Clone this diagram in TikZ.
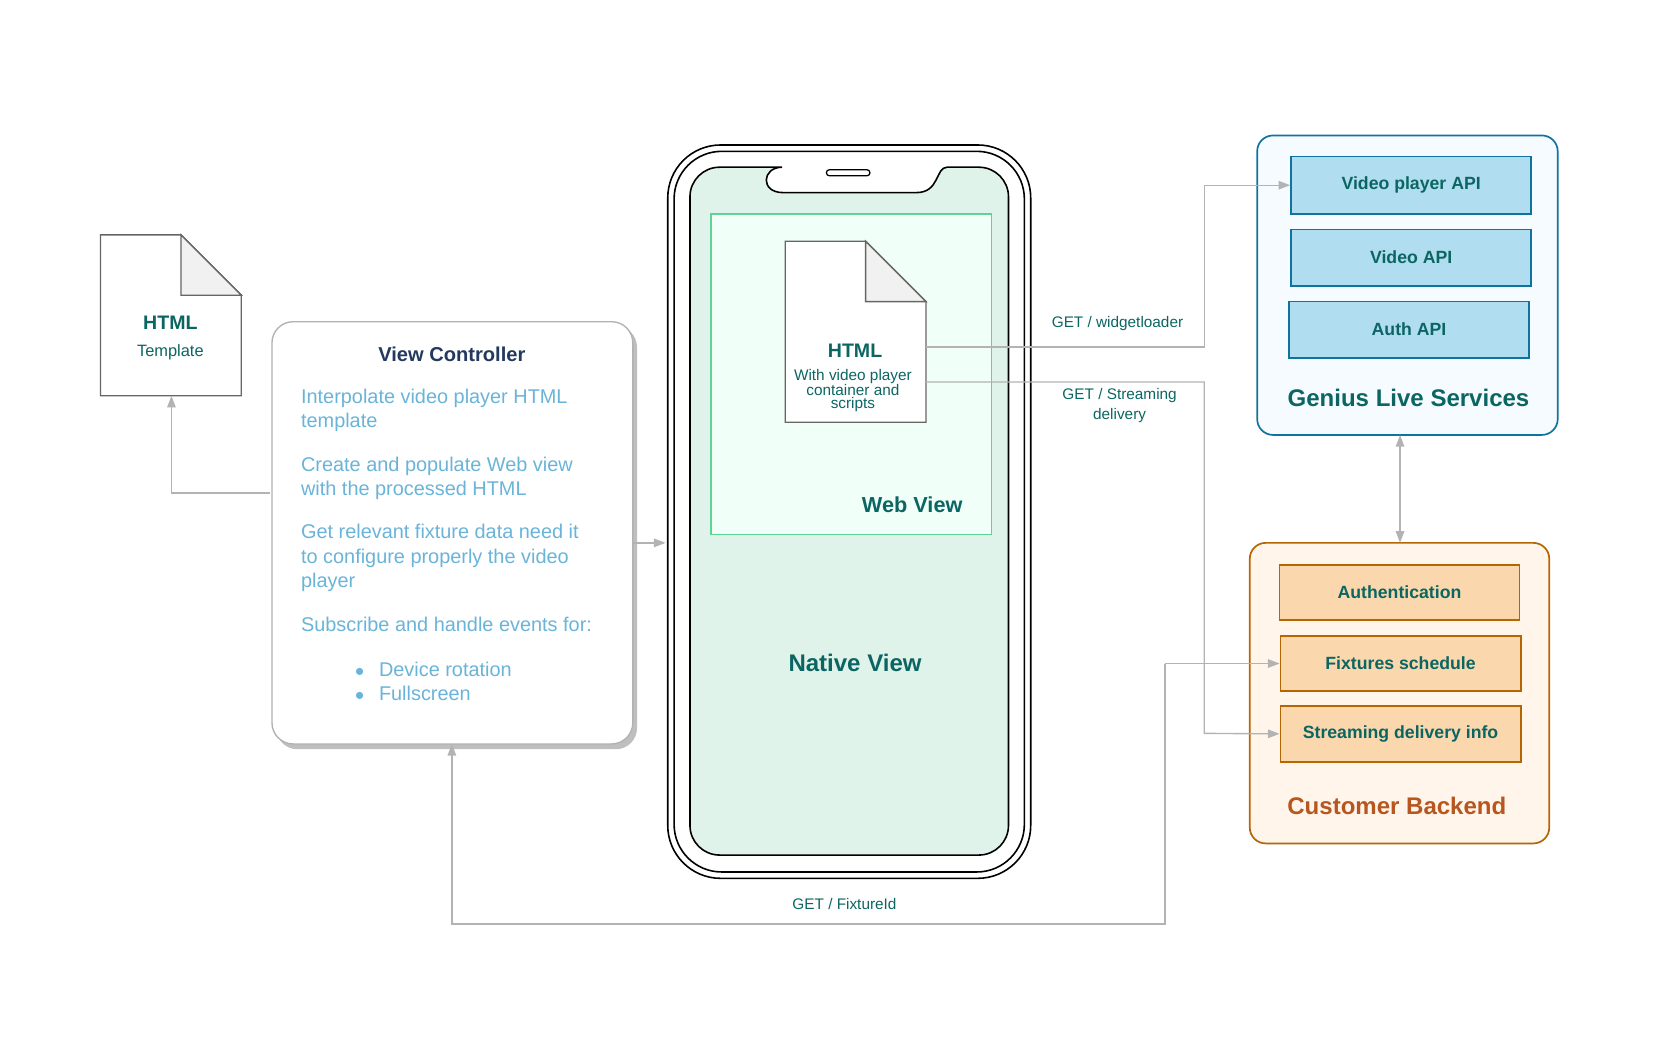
\documentclass[tikz,border=0pt]{standalone}
\usepackage{fontspec}
\setmainfont{Liberation Sans}
\usetikzlibrary{arrows.meta}
\definecolor{teal1}{HTML}{0B6663}
\definecolor{navy}{HTML}{23395D}
\definecolor{lblue}{HTML}{6AB4D9}
\definecolor{conn}{HTML}{B3B3B3}
\definecolor{gstroke}{HTML}{10739E}
\definecolor{gfill}{HTML}{B1DDF0}
\definecolor{ostroke}{HTML}{B46504}
\definecolor{ofill}{HTML}{FAD7AC}
\tikzset{
 conn/.style={draw=conn,line width=1.3pt},
 arr/.style={-{Triangle[length=11pt,width=8pt]}},
 doc/.style={draw=black!60,line width=1.3pt,fill=white},
 gbox/.style={draw=gstroke,fill=gfill,line width=1.6pt},
 obox/.style={draw=ostroke,fill=ofill,line width=1.6pt},
 btxt/.style={text=teal1,font=\fontsize{16.7}{18}\selectfont\bfseries},
 lbl/.style={text=teal1,font=\fontsize{14.5}{16}\selectfont,align=center},
 vct/.style={text=lblue,font=\fontsize{18.8}{23}\selectfont,anchor=north west,align=left},
}
\begin{document}
\begin{tikzpicture}[x=1pt,y=-1pt]
\useasboundingbox (0,0) rectangle (1563,983);
% phone
\draw[line width=1.5pt,rounded corners=50pt] (631,137) rectangle (974,830);
\draw[line width=1.5pt,rounded corners=45pt] (637,143) rectangle (968,824);
\draw[line width=1.5pt,fill={rgb,255:red,224;green,243;blue,234},rounded corners=28pt]
 (652,808) -- (652,158) -- (711,158) [sharp corners] .. controls (720,158) and (718,182) .. (740,182) -- (866,182) .. controls (888,182) and (884,158) .. (895,158) [rounded corners=28pt] -- (953,158) -- (953,808) -- cycle;
\draw[line width=1.2pt,rounded corners=2.5pt] (781,160.5) rectangle (822,166);
\node[btxt,font=\fontsize{22.7}{24}\selectfont\bfseries] (native) at (808,626) {Native View};
% web view
\draw[draw={rgb,255:red,96;green,211;blue,148},fill={rgb,255:red,240;green,255;blue,247},line width=1.5pt] (672,202) rectangle (937,505);
\node[btxt,font=\fontsize{20.5}{22}\selectfont\bfseries] (web) at (862,477) {Web View};
% html doc
\draw[doc] (742,228) -- (818,228) -- (875,285) -- (875,399) -- (742,399) -- cycle;
\draw[doc,fill={rgb,255:red,241;green,241;blue,241}] (818,228) -- (875,285) -- (818,285) -- cycle;
\node[btxt,font=\fontsize{18.5}{20}\selectfont\bfseries] (htmlt) at (808,331) {HTML};
\node[text=teal1,font=\fontsize{14.5}{12.5}\selectfont,align=center] (htmls) at (806,369) {With video player\\container and\\scripts};
% template doc
\draw[doc] (95,222) -- (171,222) -- (228,279) -- (228,374) -- (95,374) -- cycle;
\draw[doc,fill={rgb,255:red,241;green,241;blue,241}] (171,222) -- (228,279) -- (171,279) -- cycle;
\node[btxt,font=\fontsize{18.5}{20}\selectfont\bfseries] (tpl) at (161,305) {HTML};
\node[lbl,font=\fontsize{15.5}{17}\selectfont] (tpls) at (161,333) {Template};
\coordinate (tplb) at (162,374);
% view controller
\fill[black!25,rounded corners=20pt] (261,308) rectangle (602,708);
\draw[draw=black!30,fill=white,line width=1.3pt,rounded corners=20pt] (257,304) rectangle (598,703);
\node[text=navy,font=\fontsize{19}{20}\selectfont\bfseries] (vct) at (427,335) {View Controller};
\node[vct] at (281,364) {Interpolate video player HTML\\template};
\node[vct] at (281,428) {Create and populate Web view\\with the processed HTML};
\node[vct] at (281,492) {Get relevant fixture data need it\\to configure properly the video\\player};
\node[vct] at (281,580) {Subscribe and handle events for:};
\node[vct] at (332,622) {$\bullet$\hspace{14pt}Device rotation\\$\bullet$\hspace{14pt}Fullscreen};
% genius
\draw[draw=gstroke,fill={rgb,255:red,245;green,251;blue,255},line width=1.6pt,rounded corners=15pt] (1188,128) rectangle (1472,411);
\node[gbox,minimum width=227pt,minimum height=54pt,btxt] (vpa) at (1333.5,175) {Video player API};
\node[gbox,minimum width=227pt,minimum height=53pt,btxt] (va) at (1333.5,243.5) {Video API};
\node[gbox,minimum width=227pt,minimum height=53pt,btxt] (aa) at (1331.5,311.5) {Auth API};
\node[btxt,font=\fontsize{22.7}{24}\selectfont\bfseries] (gls) at (1331,376) {Genius Live Services};
% customer
\draw[draw=ostroke,fill={rgb,255:red,255;green,245;blue,234},line width=1.6pt,rounded corners=15pt] (1181,513) rectangle (1464,797);
\node[obox,minimum width=227pt,minimum height=52pt,btxt] (auth) at (1322.5,560) {Authentication};
\node[obox,minimum width=227pt,minimum height=52pt,btxt] (fix) at (1323.5,627) {Fixtures schedule};
\node[obox,minimum width=227pt,minimum height=53pt,btxt] (sdi) at (1323.5,693.5) {Streaming delivery info};
\node[text={rgb,255:red,183;green,86;blue,30},font=\fontsize{22.7}{24}\selectfont\bfseries] (cb) at (1320,762) {Customer Backend};
% connectors
\coordinate (gb) at (1323,411);
\coordinate (cbt) at (1323,513);
\draw[conn,{Triangle[length=11pt,width=8pt]}-{Triangle[length=11pt,width=8pt]}] (gb) -- (cbt);
\coordinate (h1) at (875,328);
\coordinate (h2) at (875,361);
\draw[conn,arr] (h1) -- (1138,328) -- (1138,175) -- (vpa.west);
\draw[conn,arr] (h2) -- (1138,361) -- (1138,693) -- (sdi.west);
\node[lbl] (l1) at (1056,306) {GET / widgetloader};
\node[lbl,font=\fontsize{14.5}{19}\selectfont] (l2) at (1058,383) {GET / Streaming\\delivery};
\coordinate (vcl) at (255,466);
\draw[conn,arr] (vcl) -- (162,466) -- (tplb);
\coordinate (vcr) at (598,513);
\coordinate (ph) at (629,513);
\draw[conn,arr] (vcr) -- (ph);
\coordinate (vcb) at (427,703);
\draw[conn,arr] (1101,627) -- (1101,873) -- (427,873) -- (vcb);
\draw[conn,arr] (1101,627) -- (fix.west);
\node[lbl] (l3) at (798,854) {GET / FixtureId};
\end{tikzpicture}
\end{document}
